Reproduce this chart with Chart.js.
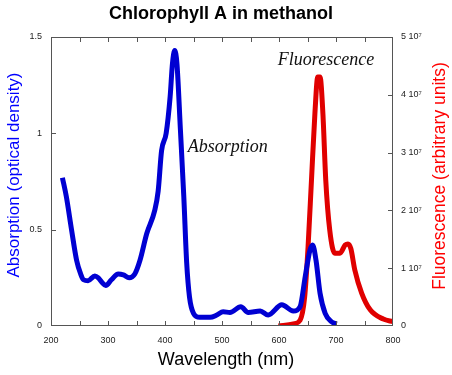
<!DOCTYPE html>
<html>
<head>
<meta charset="utf-8">
<script src="https://cdn.jsdelivr.net/npm/chart.js@4.4.1/dist/chart.umd.min.js"></script>
<style>
  html, body { margin: 0; padding: 0; background: #fff; }
  #wrap { width: 452px; height: 375px; }
</style>
</head>
<body>
<div id="wrap"><canvas id="chloroChart" width="452" height="375"></canvas></div>
<script>
// Absorption spectrum (wavelength nm, optical density)
const absWavelength = [220, 227, 236, 245, 252, 257, 265, 277, 283, 290, 296, 306, 318, 327, 337, 347, 356, 368, 382, 388,
  394, 402, 409, 413, 417, 421, 427, 433, 438, 443, 450, 461, 479, 491, 502, 514, 533, 546, 567, 581,
  605, 625, 637, 646, 654, 659, 665, 672, 681, 692, 701];
const absValues = [0.77, 0.67, 0.50, 0.34, 0.27, 0.24, 0.235, 0.26, 0.25, 0.225, 0.21, 0.24, 0.27, 0.265, 0.25, 0.27, 0.34, 0.48, 0.60, 0.70,
  0.91, 1.00, 1.19, 1.36, 1.43, 1.36, 1.02, 0.67, 0.33, 0.15, 0.066, 0.045, 0.045, 0.057, 0.074, 0.07, 0.10, 0.07, 0.078, 0.057,
  0.11, 0.078, 0.10, 0.256, 0.39, 0.42, 0.34, 0.17, 0.066, 0.022, 0.01];

// Fluorescence spectrum (wavelength nm, arbitrary units)
const fluoWavelength = [599, 625, 637, 645, 651, 657, 663, 668, 672, 677, 682, 689, 698, 707, 716, 721, 726, 733, 745, 760, 783, 800];
const fluoValues = [0, 0.035e7, 0.1e7, 0.5e7, 1.37e7, 2.53e7, 3.68e7, 4.31e7, 4.31e7, 3.68e7, 2.53e7, 1.66e7, 1.26e7, 1.26e7,
  1.40e7, 1.42e7, 1.34e7, 0.97e7, 0.57e7, 0.28e7, 0.12e7, 0.075e7];

// Tick marks
const xMinorTicks = [250, 300, 350, 400, 450, 500, 550, 600, 650, 700, 750];
const yLeftTicks = [0.5, 1.0];
const yRightTicks = [1e7, 2e7, 3e7, 4e7];

// In-plot labels: [text, wavelength, absorption value]
const curveLabels = [['Fluorescence', 598, 1.38], ['Absorption', 440, 0.93]];

function toPoints(xs, ys) {
    return xs.map((x, i) => ({ x: x, y: ys[i] }));
}

const sansFont = '"Liberation Sans", Arial, Helvetica, sans-serif';

// frame, inward ticks and text drawn on top
const decorPlugin = {
    id: 'decor',
    afterDraw(chart) {
        const ctx = chart.ctx;
        const a = chart.chartArea;
        const x = chart.scales.x, y = chart.scales.y, y2 = chart.scales.y2;
        ctx.save();
        ctx.strokeStyle = '#555';
        ctx.lineWidth = 1;
        ctx.strokeRect(Math.round(a.left) + 0.5, Math.round(a.top) + 0.5,
            Math.round(a.right - a.left) - 1, Math.round(a.bottom - a.top) - 1);
        ctx.beginPath();
        xMinorTicks.forEach(v => {
            const px = Math.round(x.getPixelForValue(v)) + 0.5;
            ctx.moveTo(px, a.bottom); ctx.lineTo(px, a.bottom - 5);
            ctx.moveTo(px, a.top); ctx.lineTo(px, a.top + 5);
        });
        yLeftTicks.forEach(v => {
            const py = Math.round(y.getPixelForValue(v)) + 0.5;
            ctx.moveTo(a.left, py); ctx.lineTo(a.left + 5, py);
        });
        yRightTicks.forEach(v => {
            const py = Math.round(y2.getPixelForValue(v)) + 0.5;
            ctx.moveTo(a.right, py); ctx.lineTo(a.right - 5, py);
        });
        ctx.stroke();

        // curve labels
        ctx.fillStyle = '#111';
        ctx.font = 'italic 18px "Liberation Serif", "Times New Roman", serif';
        ctx.textAlign = 'left';
        ctx.textBaseline = 'middle';
        curveLabels.forEach(l => {
            ctx.fillText(l[0], x.getPixelForValue(l[1]), y.getPixelForValue(l[2]));
        });

        // title
        ctx.textAlign = 'center';
        ctx.fillStyle = '#000';
        ctx.font = 'bold 18px ' + sansFont;
        ctx.fillText('Chlorophyll A in methanol', 221, 14);

        // axis titles
        ctx.font = '18px ' + sansFont;
        ctx.fillText('Wavelength (nm)', 226, 360);
        ctx.save();
        ctx.font = '17px ' + sansFont;
        ctx.translate(14, 175);
        ctx.rotate(-Math.PI / 2);
        ctx.fillStyle = '#0000ff';
        ctx.fillText('Absorption (optical density)', 0, 0);
        ctx.restore();
        ctx.save();
        ctx.font = '17.5px ' + sansFont;
        ctx.translate(440, 176);
        ctx.rotate(-Math.PI / 2);
        ctx.fillStyle = '#ff0000';
        ctx.fillText('Fluorescence (arbitrary units)', 0, 0);
        ctx.restore();
        ctx.restore();
    }
};

const tickFont = { family: sansFont, size: 9 };

const ctx = document.getElementById('chloroChart').getContext('2d');
const chloroChart = new Chart(ctx, {
    type: 'line',
    data: {
        datasets: [{
            label: 'Absorption',
            data: toPoints(absWavelength, absValues),
            yAxisID: 'y',
            borderColor: '#0000d2',
            borderWidth: 5,
            pointRadius: 0,
            cubicInterpolationMode: 'monotone',
            fill: false
        }, {
            label: 'Fluorescence',
            data: toPoints(fluoWavelength, fluoValues),
            yAxisID: 'y2',
            borderColor: '#e00000',
            borderWidth: 5,
            pointRadius: 0,
            cubicInterpolationMode: 'monotone',
            fill: false
        }]
    },
    options: {
        responsive: false,
        animation: false,
        layout: { padding: { top: 37, left: 0, right: 0, bottom: 0 } },
        plugins: {
            legend: { display: false },
            tooltip: { enabled: false }
        },
        scales: {
            x: {
                type: 'linear',
                min: 200,
                max: 800,
                grid: { display: false, drawTicks: false },
                border: { display: false },
                ticks: { stepSize: 100, padding: 9, font: tickFont, color: '#222', maxRotation: 0 },
                afterFit(scale) { scale.height = 49; }
            },
            y: {
                position: 'left',
                min: 0,
                max: 1.5,
                grid: { display: false, drawTicks: false },
                border: { display: false },
                ticks: { stepSize: 0.5, padding: 9, font: tickFont, color: '#222', callback: v => String(v) },
                afterFit(scale) { scale.width = 51; }
            },
            y2: {
                position: 'right',
                min: 0,
                max: 5e7,
                grid: { display: false, drawTicks: false },
                border: { display: false },
                ticks: {
                    stepSize: 1e7, padding: 8, font: tickFont, color: '#222',
                    callback: v => v === 0 ? '0' : (v / 1e7) + ' 10\u2077'
                },
                afterFit(scale) { scale.width = 59; }
            }
        }
    },
    plugins: [decorPlugin]
});
</script>
</body>
</html>
